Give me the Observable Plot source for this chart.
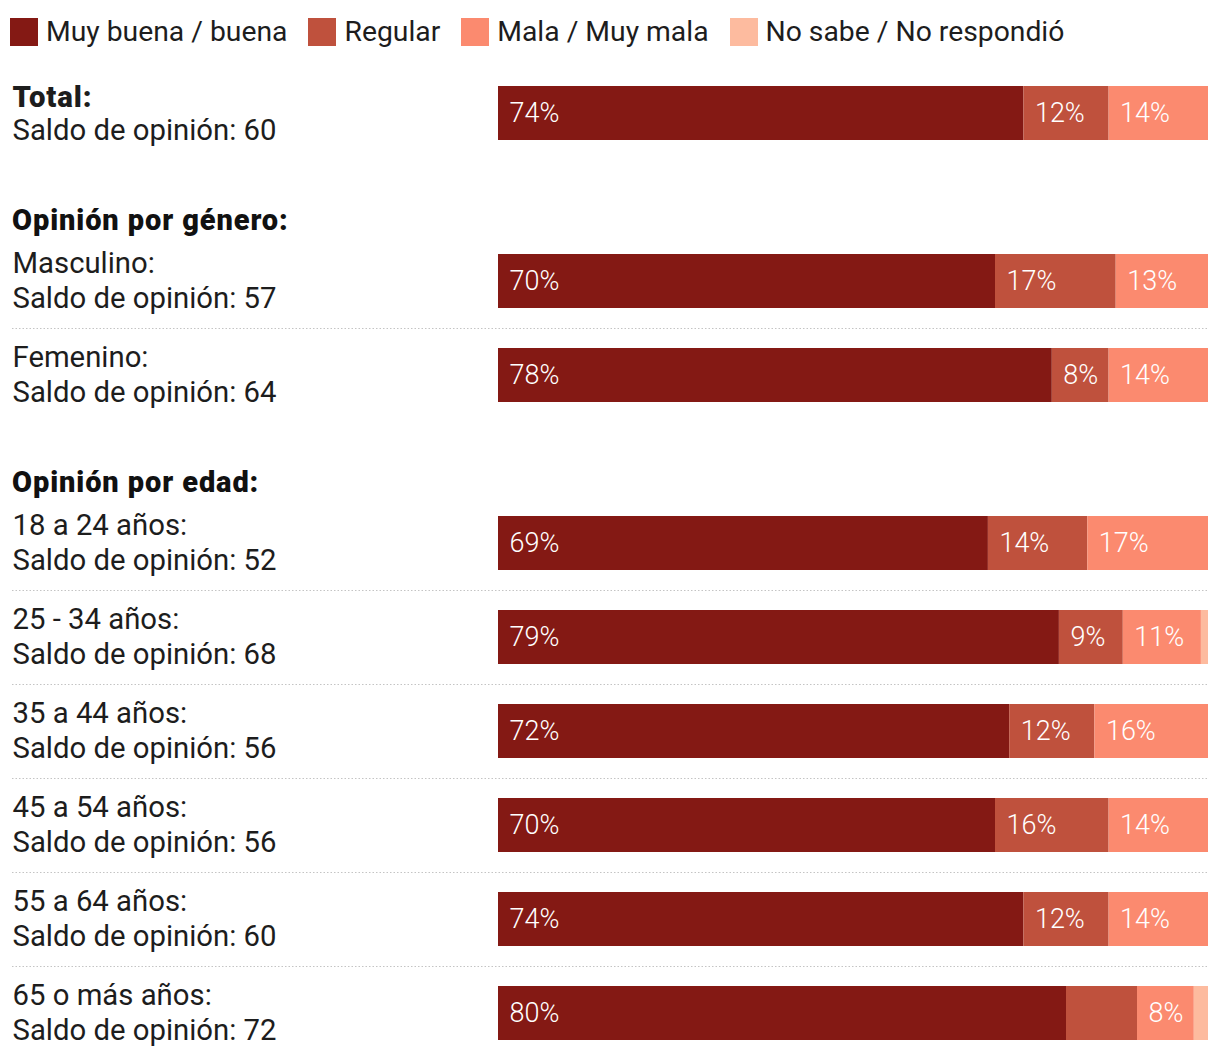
<!DOCTYPE html>
<html>
<head>
<meta charset="utf-8">
<script src="https://cdn.jsdelivr.net/npm/d3@7"></script>
<script src="https://cdn.jsdelivr.net/npm/@observablehq/plot@0.6"></script>
<style>
  html, body { margin: 0; padding: 0; background: #fff; }
  body { width: 1220px; font-family: Roboto, "Noto Sans", sans-serif; color: #1d1d1d; }
  #legend { height: 66px; box-sizing: border-box; padding: 18px 0 0 10px; display: flex; align-items: flex-start; }
  #legend .item { display: flex; align-items: center; height: 28px; margin-right: 21px; }
  #legend .sw { width: 28px; height: 28px; margin-right: 8px; }
  #legend .lab { font-size: 28.3px; line-height: 28px; color: #1d1d1d; }
  .hdr { height: 74px; box-sizing: border-box; padding: 44px 0 0 12px; font-size: 29px; line-height: 32px; font-weight: 900; letter-spacing: 0.9px; color: #111; }
  svg { display: block; }
</style>
</head>
<body>
<div id="legend"></div>
<div id="chart"></div>
<script>
// ---- data ----
const groups = ["Total", "Masculino", "Femenino", "18 a 24 años", "25 - 34 años", "35 a 44 años", "45 a 54 años", "55 a 64 años", "65 o más años"];
const sections = ["total", "genero", "genero", "edad", "edad", "edad", "edad", "edad", "edad"];
const rowLabels = ["Total:", "Masculino:", "Femenino:", "18 a 24 años:", "25 - 34 años:", "35 a 44 años:", "45 a 54 años:", "55 a 64 años:", "65 o más años:"];
const saldo = [60, 57, 64, 52, 68, 56, 56, 60, 72];
const muyBuena = [74, 70, 78, 69, 79, 72, 70, 74, 80];
const regular = [12, 17, 8, 14, 9, 12, 16, 12, 10];
const mala = [14, 13, 14, 17, 11, 16, 14, 14, 8];
const noSabe = [0, 0, 0, 0, 1, 0, 0, 0, 2];
const series = ["Muy buena / buena", "Regular", "Mala / Muy mala", "No sabe / No respondió"];
const colors = ["#841914", "#bf513d", "#fb8a6f", "#fdbb9f"];
const sectionIds = ["total", "genero", "edad"];
const sectionTitles = ["", "Opinión por género:", "Opinión por edad:"];
const hiddenLabels = [["65 o más años", "Regular"]];

// ---- build ----
const valuesBySeries = [muyBuena, regular, mala, noSabe];
const rows = groups.map((g, i) => ({group: g, section: sections[i], label: rowLabels[i], saldo: saldo[i]}));
const data = [];
groups.forEach((g, i) => series.forEach((s, j) => {
  data.push({group: g, section: sections[i], series: s, value: valuesBySeries[j][i]});
}));
const isHidden = d => hiddenLabels.some(([g, s]) => g === d.group && s === d.series);

// legend
const legend = d3.select("#legend");
series.forEach((s, j) => {
  const it = legend.append("div").attr("class", "item");
  it.append("div").attr("class", "sw").style("background", colors[j]);
  it.append("div").attr("class", "lab").text(s);
});

const STEP = 94;
const chart = document.getElementById("chart");

sectionIds.forEach((sec, k) => {
  if (sectionTitles[k]) {
    const h = document.createElement("div");
    h.className = "hdr";
    h.textContent = sectionTitles[k];
    chart.appendChild(h);
  }
  const secRows = rows.filter(r => r.section === sec);
  const secData = data.filter(d => d.section === sec);
  const seps = secRows.slice(0, -1);
  const bold = sec === "total";
  const textCommon = {y: "group", frameAnchor: "left", dx: -486, textAnchor: "start", fontSize: 29.3, fill: "#1d1d1d", fontFamily: "Roboto"};
  const p = Plot.plot({
    width: 1220,
    height: secRows.length * STEP,
    marginLeft: 498, marginRight: 12, marginTop: 0, marginBottom: 0,
    style: {fontFamily: "Roboto", background: "white", overflow: "visible"},
    x: {domain: [0, 100], axis: null},
    y: {domain: secRows.map(r => r.group), axis: null, padding: 0},
    color: {domain: series, range: colors},
    marks: [
      Plot.ruleY(seps, {y: "group", dy: STEP / 2, insetLeft: -486, stroke: "#c4c4c4", strokeWidth: 1, strokeDasharray: "1.5,2"}),
      Plot.barX(secData, {x: "value", y: "group", fill: "series", z: "series", order: series, insetTop: 20, insetBottom: 20}),
      Plot.text(secData, Plot.stackX1({
        x: "value", y: "group", z: "series", order: series,
        text: d => (d.value >= 5 && !isHidden(d)) ? d.value + "%" : null,
        textAnchor: "start", dx: 11, fill: "white", fontSize: 27, fontWeight: 300, fontFamily: "Roboto"
      })),
      Plot.text(secRows, {...textCommon, text: "label", dy: bold ? -16 : -18, fontWeight: bold ? 900 : 400, className: bold ? "boldlab" : "lab1"}),
      Plot.text(secRows, {...textCommon, text: d => "Saldo de opinión: " + d.saldo, dy: 17})
    ]
  });
  d3.select(p).selectAll(".boldlab").attr("letter-spacing", "0.9px");
  chart.appendChild(p);
});
</script>
</body>
</html>
